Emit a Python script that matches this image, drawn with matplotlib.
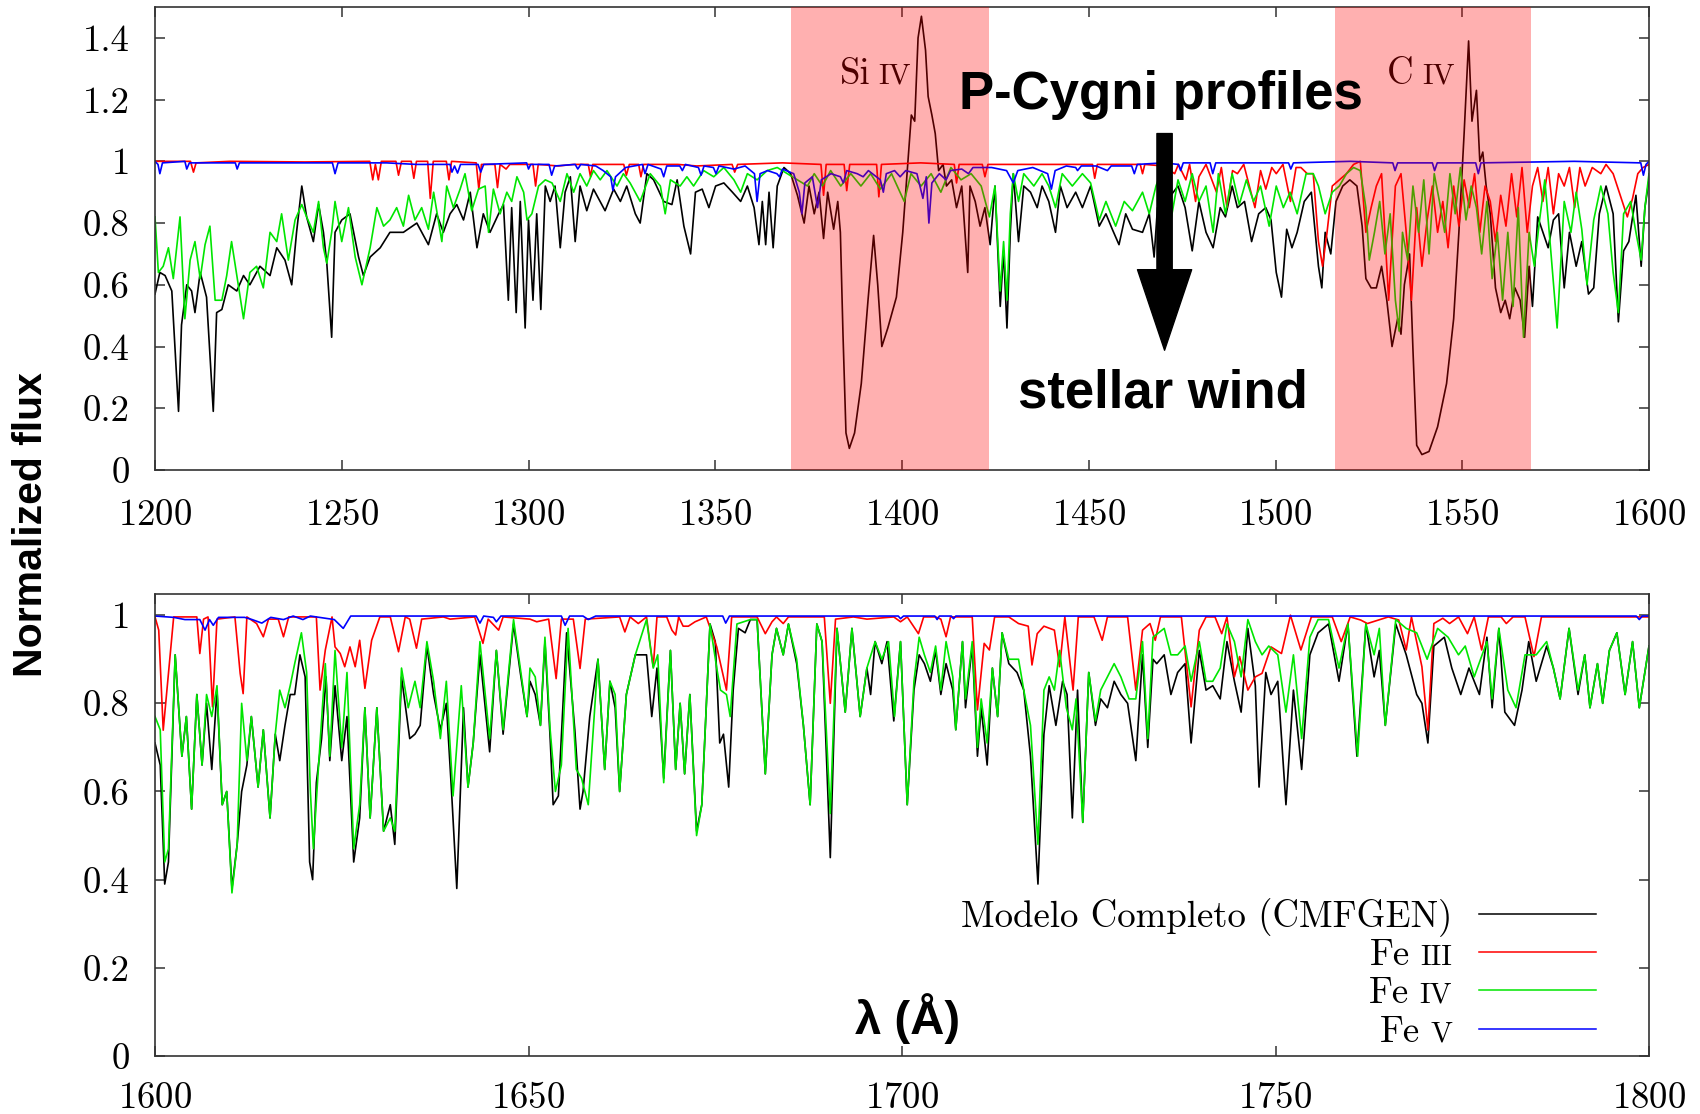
"""UV spectrum of the complete CMFGEN model compared with the Fe III, Fe IV and Fe V contributions."""

import numpy as np
import matplotlib

matplotlib.use("Agg")
import matplotlib.pyplot as plt
from matplotlib.lines import Line2D
from matplotlib.offsetbox import AnnotationBbox, DrawingArea, HPacker, TextArea
from matplotlib.ticker import FuncFormatter

plt.rcParams["font.family"] = "cmr10"
plt.rcParams["axes.formatter.use_mathtext"] = True

# (wavelength in Angstrom, normalized flux)
top_black = [
    (1200.0, .57), (1201.3, .64), (1202.7, .63), (1204.5, .58), (1206.3, .19), (1207.1, .47), (1208.5, .60),
    (1209.8, .58), (1210.7, .51), (1212.1, .64), (1213.8, .56), (1215.6, .19), (1216.5, .51), (1217.9, .52),
    (1219.6, .60), (1221.9, .58), (1223.7, .63), (1225.4, .60), (1228.1, .66), (1230.8, .63), (1232.6, .72),
    (1234.8, .68), (1236.6, .60), (1237.9, .77), (1239.3, .92), (1240.6, .82), (1242.4, .74), (1243.8, .86),
    (1245.1, .77), (1246.0, .67), (1247.3, .43), (1248.2, .77), (1250.0, .81), (1252.2, .83), (1254.5, .69),
    (1255.8, .63), (1257.6, .69), (1260.3, .72), (1262.9, .77), (1266.5, .77), (1270.1, .80), (1273.2, .73),
    (1275.4, .83), (1277.2, .77), (1279.0, .83), (1280.8, .86), (1282.6, .81), (1284.4, .90), (1286.2, .72),
    (1287.9, .83), (1289.7, .77), (1292.0, .83), (1293.3, .86), (1294.6, .55), (1295.5, .85), (1296.7, .51),
    (1297.8, .87), (1299.1, .46), (1300.0, .81), (1301.2, .55), (1302.2, .83), (1303.3, .52), (1304.5, .92),
    (1305.8, .87), (1307.1, .92), (1308.5, .72), (1309.8, .90), (1311.2, .95), (1312.5, .74), (1313.8, .92),
    (1315.6, .84), (1317.4, .91), (1320.5, .84), (1322.8, .91), (1324.6, .87), (1326.3, .92), (1328.6, .83),
    (1329.9, .80), (1331.7, .96), (1333.5, .94), (1336.2, .87), (1338.4, .86), (1339.8, .94), (1341.6, .79),
    (1343.4, .70), (1344.7, .90), (1346.5, .91), (1348.3, .85), (1350.1, .92), (1352.3, .93), (1354.6, .90),
    (1356.8, .87), (1358.6, .92), (1360.4, .85), (1361.7, .73), (1362.6, .87), (1363.5, .73), (1364.4, .90),
    (1365.5, .72), (1366.6, .92), (1368.4, .98), (1370.2, .96), (1372.0, .89), (1373.8, .80), (1375.1, .92),
    (1376.5, .83), (1377.8, .90), (1379.0, .75), (1380.1, .90), (1381.7, .78), (1382.8, .87), (1383.5, .77),
    (1384.2, .44), (1385.0, .12), (1385.9, .07), (1387.3, .12), (1389.1, .28), (1390.9, .55), (1392.4, .76),
    (1393.5, .60), (1394.6, .40), (1396.2, .46), (1398.5, .56), (1400.2, .77), (1401.6, 1.00), (1402.5, 1.15),
    (1403.4, 1.13), (1404.3, 1.40), (1405.2, 1.47), (1406.3, 1.36), (1407.0, 1.21), (1408.0, 1.15),
    (1408.9, 1.09), (1409.8, .97), (1411.0, .99), (1411.9, .92), (1413.3, .94), (1414.6, .85), (1416.0, .92),
    (1417.6, .64), (1418.2, .92), (1419.6, .87), (1420.9, .79), (1422.2, .85), (1423.6, .73), (1424.9, .92),
    (1426.3, .53), (1427.2, .71), (1428.1, .46), (1429.0, .77), (1429.8, .96), (1431.2, .74), (1432.6, .92),
    (1434.4, .90), (1436.2, .85), (1437.5, .92), (1439.3, .87), (1441.1, .77), (1442.4, .92), (1444.2, .85),
    (1446.5, .90), (1448.3, .85), (1450.5, .92), (1452.8, .79), (1454.6, .83), (1456.3, .78), (1458.1, .73),
    (1459.9, .83), (1461.7, .78), (1464.4, .77), (1466.2, .83), (1467.5, .69), (1468.4, .85), (1472.0, .89),
    (1473.9, .92), (1475.8, .85), (1477.7, .71), (1479.5, .87), (1481.4, .77), (1483.3, .72), (1485.2, .85),
    (1486.6, .82), (1488.4, .92), (1489.8, .85), (1491.7, .87), (1493.6, .74), (1495.5, .83), (1497.4, .85),
    (1498.8, .81), (1500.2, .64), (1501.6, .56), (1503.0, .78), (1504.4, .72), (1505.8, .77), (1507.7, .87),
    (1509.6, .90), (1511.5, .66), (1512.4, .59), (1513.3, .77), (1514.8, .70), (1516.2, .87), (1518.0, .92),
    (1519.9, .94), (1521.8, .92), (1523.2, .79), (1524.2, .62), (1525.6, .59), (1527.0, .59), (1528.4, .66),
    (1529.8, .55), (1531.2, .40), (1532.7, .49), (1533.6, .44), (1534.5, .60), (1535.9, .70), (1536.8, .39),
    (1537.8, .08), (1539.2, .05), (1541.1, .06), (1543.4, .14), (1545.8, .28), (1547.7, .49), (1549.1, .77),
    (1550.5, 1.09), (1551.7, 1.39), (1552.6, 1.13), (1553.8, 1.23), (1554.7, 1.00), (1555.5, 1.03),
    (1556.4, .92), (1557.5, .83), (1558.9, .59), (1560.3, .51), (1561.5, .55), (1562.7, .49), (1564.1, .59),
    (1565.5, .55), (1566.7, .43), (1567.9, .66), (1568.8, .53), (1570.2, .82), (1571.6, .77), (1573.0, .72),
    (1574.4, .81), (1575.8, .83), (1577.3, .59), (1578.7, .77), (1580.5, .66), (1582.0, .74), (1583.8, .57),
    (1585.2, .59), (1586.7, .83), (1588.5, .92), (1590.4, .83), (1591.8, .48), (1593.2, .71), (1594.6, .74),
    (1596.5, .89), (1597.9, .66), (1598.9, .85), (1600.0, .94),
]

top_fe3 = [
    (1200.0, 1.0), (1209.5, 1.0), (1210.3, .965), (1211.0, .995), (1220.0, 1.0), (1240.0, .998),
    (1257.5, 1.0), (1258.3, .94), (1259.0, .99), (1259.8, .94), (1260.6, 1.0), (1264.5, 1.0), (1265.2, .955),
    (1266.0, 1.0), (1268.6, 1.0), (1269.3, .945), (1270.0, 1.0), (1273.0, 1.0), (1273.7, .88), (1274.5, 1.0),
    (1278.0, 1.0), (1278.7, .94), (1279.4, 1.0), (1286.0, .995), (1286.7, .91), (1287.4, .99), (1291.0, .99),
    (1291.7, .915), (1292.4, .99), (1294.0, .975), (1295.0, .99), (1301.2, .99), (1301.9, .92), (1302.6, .99),
    (1308.0, .985), (1312.0, .99), (1316.0, .99), (1316.6, .95), (1317.2, .99), (1325.5, .99), (1326.2, .955),
    (1327.0, .99), (1329.5, .99), (1330.1, .95), (1330.8, .99), (1340.0, .99), (1345.0, .985), (1354.5, .99),
    (1355.2, .965), (1356.0, .99), (1368.0, .995), (1378.3, .99), (1379.0, .89), (1379.7, .99), (1384.5, .99),
    (1385.2, .905), (1386.0, .99), (1393.2, .99), (1393.8, .885), (1394.5, .99), (1405.0, .995),
    (1414.0, .99), (1414.6, .93), (1415.3, .99), (1421.5, .99), (1422.2, .95), (1423.0, .99), (1435.0, .99),
    (1451.0, .99), (1451.6, .945), (1452.3, .99), (1463.8, .99), (1464.4, .96), (1465.0, .99), (1470.0, .985),
    (1473.0, .96), (1474.0, .99), (1476.0, .94), (1477.0, .99), (1478.6, .87), (1479.5, .95), (1481.4, .99),
    (1484.2, .90), (1485.5, .98), (1487.0, .85), (1488.5, .97), (1489.8, .96), (1491.5, .99), (1494.5, .85),
    (1496.0, .97), (1497.4, .91), (1499.0, .98), (1500.2, .96), (1502.0, .99), (1504.0, .87), (1505.5, .98),
    (1506.8, .98), (1508.5, .96), (1510.1, .96), (1511.5, .74), (1512.6, .66), (1513.8, .77), (1515.2, .92),
    (1517.1, .94), (1519.0, .96), (1520.9, .99), (1522.7, 1.0), (1524.2, .77), (1525.6, .85), (1527.0, .92),
    (1528.4, .96), (1530.3, .55), (1531.2, .74), (1532.1, .92), (1533.6, .96), (1535.0, .77), (1536.4, .55),
    (1537.8, .85), (1539.2, .66), (1540.6, .81), (1542.0, .92), (1543.4, .77), (1544.8, .87), (1546.2, .72),
    (1547.7, .92), (1549.1, .79), (1550.5, .94), (1551.9, .85), (1553.3, .96), (1554.7, .77), (1556.1, .92),
    (1557.5, .87), (1558.9, .74), (1560.3, .89), (1561.7, .79), (1563.2, .96), (1564.6, .82), (1566.0, .98),
    (1567.4, .77), (1568.8, .92), (1570.2, .98), (1571.6, .87), (1573.0, .98), (1574.4, .83), (1575.8, .96),
    (1577.3, .92), (1578.7, .98), (1580.1, .85), (1581.5, .98), (1582.9, .92), (1584.8, .98), (1587.1, .96),
    (1588.5, .99), (1590.4, .96), (1592.3, .89), (1594.2, .82), (1595.6, .88), (1597.0, .96), (1598.4, .98),
    (1600.0, .99),
]

top_fe4 = [
    (1200.0, .82), (1200.9, .64), (1202.2, .66), (1203.6, .72), (1204.9, .62), (1206.7, .82), (1208.0, .49),
    (1209.4, .68), (1210.7, .74), (1212.1, .62), (1213.4, .73), (1214.7, .79), (1216.1, .55), (1217.9, .55),
    (1219.2, .63), (1220.5, .74), (1222.3, .60), (1223.7, .49), (1225.4, .64), (1227.2, .66), (1229.0, .59),
    (1230.8, .77), (1232.6, .74), (1233.9, .83), (1235.7, .68), (1237.5, .81), (1239.3, .86), (1240.6, .82),
    (1242.4, .77), (1243.8, .87), (1245.1, .72), (1246.0, .67), (1247.3, .77), (1248.2, .87), (1250.0, .74),
    (1251.8, .85), (1253.6, .69), (1255.4, .60), (1257.6, .72), (1259.4, .85), (1261.2, .79), (1262.9, .81),
    (1264.7, .85), (1266.5, .79), (1267.9, .89), (1269.6, .81), (1271.4, .85), (1273.2, .78), (1274.6, .90),
    (1276.8, .74), (1278.1, .92), (1279.9, .85), (1281.7, .91), (1283.0, .96), (1284.8, .84), (1286.6, .91),
    (1288.4, .92), (1289.3, .77), (1290.6, .91), (1292.4, .83), (1294.2, .90), (1295.5, .87), (1296.9, .95),
    (1298.7, .90), (1299.6, .81), (1300.9, .83), (1302.7, .92), (1304.5, .94), (1306.3, .93), (1308.5, .87),
    (1310.3, .96), (1312.1, .90), (1313.8, .96), (1315.6, .92), (1317.4, .97), (1319.2, .94), (1321.0, .97),
    (1323.7, .92), (1325.4, .96), (1327.2, .93), (1329.9, .87), (1332.6, .96), (1335.3, .92), (1336.6, .83),
    (1338.0, .94), (1340.6, .92), (1342.4, .95), (1344.2, .92), (1346.9, .97), (1349.6, .95), (1352.3, .98),
    (1355.0, .94), (1356.8, .90), (1358.6, .96), (1361.2, .94), (1363.9, .97), (1366.6, .98), (1369.3, .96),
    (1372.0, .94), (1374.7, .92), (1376.5, .96), (1378.7, .92), (1380.9, .97), (1383.6, .92), (1386.3, .96),
    (1389.0, .92), (1391.6, .96), (1394.2, .91), (1397.2, .96), (1400.6, .87), (1402.4, .96), (1405.1, .92),
    (1407.8, .96), (1410.4, .90), (1413.1, .98), (1415.8, .94), (1418.5, .96), (1421.2, .92), (1423.4, .82),
    (1424.9, .92), (1426.3, .58), (1427.2, .74), (1428.1, .55), (1429.0, .83), (1429.8, .96), (1431.2, .87),
    (1432.6, .96), (1435.3, .92), (1437.5, .96), (1439.3, .92), (1441.1, .85), (1442.9, .96), (1445.6, .92),
    (1448.3, .96), (1450.5, .93), (1452.8, .81), (1454.6, .87), (1457.2, .79), (1459.5, .87), (1461.7, .84),
    (1464.4, .90), (1466.2, .83), (1468.0, .92), (1469.2, .96), (1472.0, .81), (1473.9, .94), (1475.8, .87),
    (1477.7, .96), (1479.5, .87), (1481.4, .92), (1483.3, .77), (1484.7, .96), (1486.6, .83), (1488.4, .96),
    (1490.3, .86), (1492.2, .94), (1494.1, .87), (1496.0, .92), (1498.3, .79), (1500.2, .92), (1502.1, .85),
    (1503.9, .90), (1505.8, .83), (1508.2, .96), (1510.1, .96), (1511.5, .92), (1513.3, .83), (1515.2, .90),
    (1517.1, .92), (1519.0, .96), (1520.9, .98), (1522.7, .97), (1524.2, .85), (1525.1, .68), (1526.5, .77),
    (1527.9, .87), (1529.3, .70), (1530.7, .83), (1532.1, .55), (1533.1, .45), (1534.0, .77), (1535.4, .68),
    (1536.8, .92), (1538.3, .77), (1539.7, .94), (1541.1, .70), (1542.5, .96), (1543.9, .87), (1545.3, .77),
    (1546.7, .96), (1548.1, .83), (1549.5, .98), (1551.0, .81), (1552.4, .92), (1553.8, .85), (1555.2, .70),
    (1556.6, .87), (1558.0, .62), (1559.4, .77), (1560.8, .55), (1562.2, .77), (1563.6, .53), (1565.0, .85),
    (1566.4, .43), (1567.9, .77), (1569.3, .66), (1570.7, .81), (1572.1, .94), (1573.5, .74), (1575.4, .46),
    (1577.3, .87), (1579.1, .77), (1580.5, .90), (1582.0, .78), (1583.4, .60), (1585.2, .81), (1587.1, .92),
    (1589.0, .83), (1590.4, .64), (1591.8, .51), (1593.2, .83), (1595.1, .87), (1596.5, .77), (1597.9, .68),
    (1598.9, .85), (1600.0, .96),
]

top_fe5 = [
    (1200.0, 1.0), (1200.8, .99), (1201.3, .96), (1202.0, .995), (1208.0, 1.0), (1208.5, .975),
    (1209.2, .995), (1221.5, .995), (1222.0, .975), (1222.6, .995), (1247.5, .995), (1248.2, .96),
    (1249.0, .995), (1262.0, .995), (1270.0, .99), (1279.0, .99), (1279.5, .965), (1280.2, .985),
    (1281.0, .962), (1281.8, .99), (1286.5, .99), (1287.2, .965), (1288.0, .99), (1299.5, .995), (1300.0, .975),
    (1300.6, .99), (1305.5, .99), (1306.2, .955), (1307.0, .985), (1312.5, .99), (1313.2, .975), (1314.0, .99),
    (1318.0, .985), (1320.0, .97), (1322.0, .95), (1322.6, .906), (1323.3, .95), (1326.0, .98), (1330.5, .99),
    (1331.2, .96), (1332.0, .99), (1335.5, .975), (1336.2, .95), (1337.0, .985), (1340.5, .985), (1341.2, .97),
    (1342.0, .99), (1345.5, .98), (1346.2, .955), (1347.0, .985), (1349.5, .98), (1350.2, .96), (1351.0, .985),
    (1355.0, .975), (1358.0, .985), (1360.5, .96), (1361.2, .87), (1362.0, .96), (1364.0, .97), (1366.5, .96),
    (1367.2, .95), (1368.0, .975), (1371.0, .96), (1372.5, .90), (1373.2, .83), (1374.0, .93), (1376.0, .95),
    (1377.4, .85), (1378.4, .94), (1381.0, .96), (1383.5, .95), (1384.3, .93), (1385.2, .97), (1388.0, .96),
    (1389.6, .95), (1391.0, .97), (1394.2, .94), (1395.0, .90), (1395.8, .96), (1398.0, .97), (1399.5, .95),
    (1401.0, .97), (1404.0, .96), (1405.6, .88), (1406.5, .95), (1407.2, .80), (1408.0, .93), (1410.0, .96),
    (1411.8, .94), (1413.0, .97), (1416.0, .975), (1417.8, .96), (1419.0, .98), (1424.0, .98), (1428.0, .97),
    (1429.8, .93), (1431.0, .97), (1435.0, .98), (1439.0, .96), (1440.0, .91), (1441.0, .97), (1444.0, .985),
    (1446.5, .98), (1447.0, .97), (1448.0, .985), (1452.0, .985), (1455.0, .97), (1456.0, .985),
    (1461.5, .985), (1462.2, .96), (1463.0, .99), (1470.0, .995), (1474.0, .99), (1474.6, .97),
    (1475.3, .995), (1482.5, .995), (1483.2, .96), (1484.0, .995), (1503.5, .995), (1504.1, .975),
    (1504.8, .995), (1520.0, 1.0), (1531.4, .995), (1532.0, .97), (1532.7, .995), (1542.0, .995),
    (1542.6, .97), (1543.3, .995), (1553.6, .995), (1554.3, .96), (1555.0, .995), (1580.0, 1.0),
    (1597.8, .995), (1598.5, .955), (1599.2, .99), (1600.0, 1.0),
]

bottom_black = [
    (1600.0, .71), (1600.7, .66), (1601.3, .39), (1601.8, .44), (1602.7, .91), (1603.6, .68), (1604.2, .77),
    (1604.9, .56), (1605.6, .82), (1606.3, .66), (1606.9, .80), (1607.6, .65), (1608.3, .83), (1609.0, .57),
    (1609.6, .60), (1610.3, .38), (1611.0, .48), (1611.6, .60), (1612.3, .66), (1612.9, .77), (1613.8, .61),
    (1614.5, .74), (1615.4, .54), (1616.1, .73), (1616.7, .67), (1617.4, .75), (1618.1, .82), (1618.7, .82),
    (1619.4, .91), (1620.1, .86), (1620.7, .44), (1621.1, .40), (1621.6, .62), (1622.3, .72), (1622.9, .86),
    (1623.4, .67), (1624.1, .84), (1625.0, .67), (1625.7, .77), (1626.6, .44), (1627.4, .54), (1628.1, .79),
    (1628.8, .54), (1629.7, .79), (1630.6, .51), (1631.5, .57), (1632.1, .48), (1633.0, .86), (1634.1, .72),
    (1634.8, .73), (1635.5, .75), (1636.4, .93), (1637.3, .82), (1638.2, .74), (1639.0, .80), (1639.7, .60),
    (1640.4, .38), (1641.3, .79), (1641.9, .61), (1642.6, .71), (1643.5, .91), (1644.8, .69), (1645.7, .92),
    (1646.6, .73), (1648.0, .98), (1648.9, .87), (1649.8, .77), (1650.2, .85), (1650.9, .82), (1651.6, .75),
    (1652.2, .94), (1652.9, .72), (1653.3, .57), (1654.0, .59), (1655.1, .96), (1656.2, .74), (1656.9, .56),
    (1657.3, .60), (1658.2, .77), (1659.3, .90), (1660.2, .65), (1660.9, .85), (1661.6, .79), (1662.2, .60),
    (1663.1, .82), (1664.3, .91), (1665.8, .91), (1666.5, .77), (1667.2, .88), (1668.1, .63), (1669.0, .92),
    (1669.7, .65), (1670.3, .80), (1670.9, .64), (1671.6, .82), (1672.5, .51), (1673.2, .57), (1674.3, .98),
    (1675.0, .94), (1675.6, .71), (1676.1, .73), (1676.8, .61), (1677.4, .83), (1678.1, .97), (1679.0, .96),
    (1679.7, .99), (1680.6, .99), (1681.7, .64), (1682.6, .91), (1683.2, .97), (1684.1, .91), (1684.8, .98),
    (1685.9, .89), (1686.8, .75), (1687.7, .57), (1688.6, .98), (1689.3, .94), (1690.4, .45), (1691.3, .97),
    (1692.4, .78), (1693.3, .97), (1694.4, .77), (1695.3, .88), (1695.8, .82), (1696.4, .94), (1697.3, .89),
    (1698.0, .94), (1698.9, .76), (1699.8, .94), (1700.7, .57), (1701.6, .83), (1702.3, .91), (1703.0, .89),
    (1703.8, .85), (1704.5, .92), (1705.2, .82), (1705.9, .89), (1706.8, .83), (1707.2, .74), (1708.1, .94),
    (1708.5, .79), (1709.4, .93), (1710.1, .68), (1710.6, .79), (1711.4, .66), (1712.1, .88), (1712.8, .77),
    (1713.4, .96), (1714.3, .89), (1715.4, .87), (1716.3, .83), (1717.2, .68), (1718.2, .39), (1719.0, .73),
    (1719.7, .84), (1720.6, .75), (1721.5, .85), (1722.1, .82), (1722.8, .54), (1723.5, .83), (1724.2, .53),
    (1725.0, .87), (1725.9, .75), (1726.6, .81), (1727.5, .79), (1728.4, .85), (1729.3, .82), (1730.2, .80),
    (1731.3, .67), (1732.2, .91), (1732.9, .70), (1733.6, .90), (1734.1, .89), (1735.1, .91), (1736.0, .82),
    (1736.9, .87), (1737.9, .89), (1738.7, .71), (1739.8, .92), (1740.7, .83), (1741.6, .84), (1742.6, .81),
    (1743.5, .94), (1744.5, .85), (1745.4, .78), (1746.3, .97), (1747.3, .84), (1747.8, .61), (1748.7, .87),
    (1749.4, .82), (1750.3, .85), (1751.4, .57), (1752.4, .83), (1753.5, .65), (1754.6, .91), (1755.7, .96),
    (1757.1, .98), (1758.5, .85), (1759.7, .98), (1760.9, .68), (1762.1, .98), (1763.2, .86), (1763.9, .92),
    (1764.7, .75), (1766.1, .98), (1767.5, .91), (1768.9, .82), (1769.6, .80), (1770.4, .71), (1771.2, .93),
    (1772.6, .95), (1773.6, .88), (1774.8, .82), (1775.9, .88), (1777.3, .82), (1778.3, .95), (1779.0, .79),
    (1779.9, .97), (1780.7, .78), (1782.0, .75), (1783.0, .83), (1783.9, .94), (1784.9, .85), (1786.3, .93),
    (1787.2, .88), (1788.1, .81), (1789.3, .97), (1790.5, .82), (1791.4, .91), (1792.1, .79), (1793.1, .89),
    (1793.8, .80), (1794.7, .92), (1795.7, .96), (1796.8, .82), (1797.8, .94), (1798.7, .79), (1800.0, .93),
]

bottom_fe3 = [
    (1600.0, .996), (1600.5, .966), (1601.1, .739), (1601.6, .83), (1602.5, .996), (1605.6, .996),
    (1606.0, .913), (1606.5, .991), (1607.1, .996), (1607.7, .792), (1608.3, .991), (1610.7, .996),
    (1611.4, .868), (1611.8, .822), (1612.3, .996), (1613.6, .981), (1614.5, .951), (1615.2, .991),
    (1616.5, .991), (1617.2, .951), (1617.9, .996), (1621.6, .996), (1622.1, .83), (1622.8, .921),
    (1623.7, .996), (1624.1, .928), (1624.8, .913), (1625.4, .883), (1626.1, .928), (1626.8, .883),
    (1627.4, .943), (1628.1, .834), (1629.0, .943), (1630.1, .996), (1631.5, .996), (1632.6, .917),
    (1633.5, .996), (1634.1, .991), (1635.0, .925), (1635.7, .991), (1638.6, .996), (1639.5, .991),
    (1642.8, .996), (1643.9, .936), (1644.6, .991), (1646.0, .966), (1646.6, .996), (1650.2, .991),
    (1651.1, .985), (1652.7, .991), (1653.7, .856), (1654.4, .991), (1656.0, .991), (1656.9, .879),
    (1657.6, .991), (1662.2, .996), (1662.9, .962), (1663.6, .996), (1664.7, .981), (1665.8, .996),
    (1666.5, .906), (1666.7, .883), (1667.2, .996), (1668.5, .996), (1669.2, .966), (1669.7, .955),
    (1670.1, .996), (1670.7, .975), (1671.4, .975), (1672.3, .985), (1673.8, .996), (1675.2, .928),
    (1676.5, .83), (1677.2, .996), (1680.6, .996), (1681.7, .958), (1682.6, .985), (1683.2, .996),
    (1684.1, .981), (1684.8, .996), (1689.6, .996), (1690.4, .80), (1691.1, .991), (1693.5, .996),
    (1695.3, .991), (1698.9, .996), (1699.8, .985), (1700.7, .996), (1702.2, .958), (1702.9, .996),
    (1704.5, .996), (1705.2, .991), (1705.9, .951), (1706.5, .996), (1709.4, .996), (1710.1, .785),
    (1711.0, .936), (1711.7, .921), (1712.4, .996), (1714.3, .996), (1715.6, .981), (1716.9, .975),
    (1717.4, .887), (1718.1, .958), (1719.0, .975), (1720.4, .966), (1721.1, .883), (1721.8, .996),
    (1722.4, .906), (1722.9, .83), (1723.6, .996), (1725.7, .996), (1726.8, .943), (1727.5, .996),
    (1730.2, .996), (1731.3, .83), (1732.2, .966), (1733.2, .981), (1733.9, .943), (1734.6, .996),
    (1737.4, .996), (1738.7, .792), (1739.8, .966), (1740.7, .996), (1741.9, .996), (1742.8, .958),
    (1743.5, .996), (1744.5, .86), (1745.2, .906), (1746.3, .83), (1747.3, .86), (1748.2, .868),
    (1749.4, .928), (1750.8, .913), (1752.0, 1.0), (1753.4, .921), (1754.8, .996), (1757.6, .996),
    (1758.8, .94), (1760.0, .996), (1761.4, .989), (1762.3, .981), (1765.1, .996), (1766.5, .989),
    (1767.5, .921), (1768.2, .996), (1769.6, .883), (1770.4, .739), (1771.2, .981), (1772.4, .993),
    (1773.3, .981), (1774.5, .996), (1775.7, .958), (1776.6, .996), (1777.6, .921), (1778.5, .996),
    (1780.2, .996), (1780.9, .981), (1781.8, .996), (1783.4, .996), (1784.6, .906), (1785.6, .996),
    (1800.0, .996),
]

bottom_fe4 = [
    (1600.0, .77), (1600.7, .74), (1601.3, .44), (1601.8, .47), (1602.7, .91), (1603.6, .68), (1604.2, .77),
    (1604.9, .56), (1605.6, .82), (1606.3, .66), (1606.9, .82), (1607.6, .77), (1608.3, .84), (1609.0, .57),
    (1609.6, .60), (1610.3, .37), (1611.0, .48), (1611.6, .80), (1612.3, .67), (1612.9, .77), (1613.8, .61),
    (1614.5, .74), (1615.4, .54), (1616.1, .73), (1616.7, .83), (1617.4, .79), (1618.1, .84), (1618.7, .89),
    (1619.6, .96), (1620.3, .87), (1620.8, .60), (1621.2, .47), (1621.9, .66), (1622.8, .89), (1623.4, .68),
    (1624.1, .92), (1625.0, .70), (1625.7, .87), (1626.6, .47), (1627.4, .57), (1628.1, .79), (1628.8, .54),
    (1629.7, .79), (1630.6, .51), (1631.5, .54), (1632.1, .51), (1633.0, .88), (1633.9, .79), (1634.8, .85),
    (1635.5, .79), (1636.4, .94), (1637.3, .85), (1638.2, .72), (1639.0, .85), (1639.9, .59), (1641.0, .84),
    (1641.9, .61), (1642.6, .71), (1643.5, .94), (1644.8, .72), (1645.7, .92), (1646.6, .74), (1648.0, .99),
    (1648.9, .88), (1649.8, .77), (1650.2, .88), (1650.9, .86), (1651.6, .75), (1652.2, .95), (1652.9, .74),
    (1653.6, .60), (1654.4, .66), (1655.3, .97), (1656.4, .65), (1657.1, .63), (1658.0, .57), (1659.3, .90),
    (1660.2, .65), (1660.9, .85), (1661.6, .82), (1662.2, .60), (1663.1, .82), (1664.3, .91), (1665.8, .99),
    (1666.7, .88), (1667.3, .91), (1668.1, .62), (1669.0, .92), (1669.7, .65), (1670.3, .80), (1670.9, .64),
    (1671.6, .82), (1672.5, .50), (1673.2, .57), (1674.3, .98), (1675.2, .88), (1675.7, .83), (1676.5, .82),
    (1677.0, .77), (1677.9, .98), (1679.7, .99), (1680.6, .99), (1681.7, .64), (1682.6, .91), (1683.2, .97),
    (1684.1, .91), (1684.8, .98), (1685.9, .90), (1686.8, .75), (1687.7, .57), (1688.6, .98), (1689.3, .94),
    (1690.4, .55), (1691.3, .97), (1692.4, .78), (1693.3, .97), (1694.4, .77), (1695.3, .88), (1696.4, .94),
    (1697.3, .90), (1698.2, .94), (1699.0, .77), (1699.8, .94), (1700.7, .57), (1701.6, .85), (1702.3, .95),
    (1703.0, .91), (1703.8, .87), (1704.5, .93), (1705.2, .83), (1705.9, .94), (1706.8, .86), (1707.2, .74),
    (1708.1, .94), (1708.5, .81), (1709.4, .94), (1710.1, .70), (1710.6, .81), (1711.4, .71), (1712.1, .88),
    (1712.8, .77), (1713.4, .96), (1714.3, .90), (1715.6, .90), (1716.3, .83), (1717.2, .75), (1718.2, .48),
    (1719.0, .83), (1719.7, .86), (1720.4, .83), (1721.1, .92), (1722.0, .79), (1722.8, .74), (1723.3, .81),
    (1724.2, .53), (1725.0, .87), (1725.9, .76), (1726.6, .83), (1727.5, .86), (1728.4, .89), (1729.3, .86),
    (1730.4, .81), (1731.3, .81), (1732.2, .94), (1732.9, .72), (1733.6, .95), (1735.1, .97), (1736.0, .91),
    (1736.9, .91), (1737.9, .93), (1738.7, .85), (1739.8, .94), (1740.7, .85), (1741.6, .85), (1742.6, .88),
    (1743.5, .98), (1744.5, .94), (1745.4, .86), (1746.3, .99), (1747.3, .94), (1748.2, .91), (1749.1, .93),
    (1750.3, .91), (1751.4, .78), (1752.4, .91), (1753.5, .72), (1754.6, .95), (1755.7, .99), (1757.1, .99),
    (1758.5, .88), (1759.7, .98), (1761.0, .68), (1762.1, .98), (1763.2, .91), (1763.9, .97), (1764.7, .75),
    (1766.1, .99), (1767.5, .97), (1768.9, .96), (1770.3, .90), (1771.7, .97), (1773.1, .95), (1774.5, .91),
    (1775.4, .93), (1776.6, .86), (1778.3, .94), (1779.0, .81), (1779.9, .97), (1781.1, .83), (1782.2, .79),
    (1783.4, .91), (1784.9, .91), (1786.3, .94), (1787.2, .88), (1788.1, .81), (1789.3, .97), (1790.5, .83),
    (1791.4, .91), (1792.1, .79), (1793.1, .89), (1793.8, .80), (1794.7, .92), (1795.7, .96), (1796.8, .82),
    (1797.8, .94), (1798.7, .79), (1800.0, .93),
]

bottom_fe5 = [
    (1600.0, .998), (1602.5, .995), (1604.0, .99), (1606.0, .99), (1606.7, .966), (1607.3, .99),
    (1607.8, .977), (1608.5, .995), (1612.0, .995), (1613.0, .99), (1614.3, .982), (1615.5, .995),
    (1617.2, .99), (1618.5, .998), (1619.8, .99), (1620.8, .998), (1624.0, .99), (1625.2, .97),
    (1626.2, .998), (1643.0, .998), (1643.5, .982), (1644.0, .998), (1645.3, .995), (1645.7, .985),
    (1646.3, .998), (1654.4, .998), (1654.9, .977), (1655.5, .998), (1657.3, .998), (1658.0, .99),
    (1659.0, .998), (1676.0, .998), (1676.4, .982), (1676.9, .998), (1699.5, .998), (1699.8, .992),
    (1700.2, .998), (1704.4, .998), (1704.7, .99), (1705.0, .998), (1706.6, .998), (1706.9, .992),
    (1707.2, .998), (1798.3, .998), (1798.7, .99), (1799.1, .998), (1800.0, .998),
]

series_colors = ["black", "#ff0000", "#00e600", "#0000ff"]
legend_labels = [("Modelo Completo (CMFGEN)", ""), ("Fe", "III"), ("Fe", "IV"), ("Fe", "V")]
wind_regions = [(1370.2, 1423.2), (1515.9, 1568.4)]
wind_labels = [(1392.9, "Si", "IV"), (1539.0, "C", "IV")]

SERIF = 26.5


def ion_label(element, stage, size=SERIF, gap=7.5):
    main = TextArea(element, textprops=dict(fontsize=size, family="cmr10"))
    if not stage:
        return main
    small = TextArea(stage, textprops=dict(fontsize=size * 0.8, family="cmr10"))
    return HPacker(children=[main, small], pad=0, sep=gap, align="baseline")


def style_axis(ax, xticks, yticks, xpad):
    ax.set_xticks(xticks)
    ax.set_yticks(yticks)
    ax.yaxis.set_major_formatter(FuncFormatter(lambda v, _: f"{v:g}"))
    ax.tick_params(direction="in", length=7.5, width=1.1, top=True, right=True,
                   labelsize=SERIF, color="#333333")
    ax.tick_params(axis="x", pad=xpad)
    ax.tick_params(axis="y", pad=18)
    for spine in ax.spines.values():
        spine.set_linewidth(1.2)
        spine.set_color("#333333")


fig = plt.figure(figsize=(17, 11.14), dpi=100)
ax_top = fig.add_axes([155 / 1700, 1 - 470 / 1114, 1494 / 1700, 463 / 1114])
ax_bot = fig.add_axes([155 / 1700, 1 - 1056 / 1114, 1494 / 1700, 462 / 1114])

for ax, curves in ((ax_top, (top_black, top_fe3, top_fe4, top_fe5)),
                   (ax_bot, (bottom_black, bottom_fe3, bottom_fe4, bottom_fe5))):
    for i, (curve, color) in enumerate(zip(curves, series_colors)):
        wl, flux = np.array(curve).T
        ax.plot(wl, flux, color=color, lw=1.2, zorder=2 + 0.1 * i)

ax_top.set_xlim(1200, 1600)
ax_top.set_ylim(0, 1.5)
style_axis(ax_top, np.arange(1200, 1601, 50), np.round(np.arange(0, 1.41, 0.2), 1), 21)

ax_bot.set_xlim(1600, 1800)
ax_bot.set_ylim(0, 1.048)
style_axis(ax_bot, np.arange(1600, 1801, 50), np.round(np.arange(0, 1.01, 0.2), 1), 18.5)

# wind-line regions, drawn over the spectra so the lines show through tinted
for lo, hi in wind_regions:
    ax_top.axvspan(lo, hi, color="#ff0000", alpha=0.31, lw=0, zorder=5)

for x, element, stage in wind_labels:
    ab = AnnotationBbox(ion_label(element, stage, gap=6), (x, 1.229), xycoords="data",
                        box_alignment=(0.5, 0.0), frameon=False, pad=0)
    ab.set_zorder(3)
    ax_top.add_artist(ab)

bold = dict(family="Liberation Sans", weight="bold")
ax_top.text(1469.4, 1.171, "P-Cygni profiles", ha="center", va="baseline", fontsize=38, zorder=7, **bold)
ax_top.text(1469.8, 0.204, "stellar wind", ha="center", va="baseline", fontsize=38, zorder=7, **bold)
ax_top.annotate("", xy=(1470.3, 0.388), xytext=(1470.3, 1.09),
                arrowprops=dict(arrowstyle="simple,head_length=0.58,head_width=0.39,tail_width=0.11",
                                mutation_scale=100, color="black", shrinkA=0, shrinkB=0),
                zorder=7)

ax_bot.text(0.504, 0.082, "λ (Å)", transform=ax_bot.transAxes, ha="center", va="center",
            fontsize=34, **bold)
fig.text(31 / 1700, 1 - 525 / 1114, "Normalized flux", rotation=90, ha="center", va="center",
         fontsize=29.5, **bold)

# legend: right-aligned labels with small-cap ionisation stages, line sample on the right
row_bottoms = [0.257, 0.1818, 0.0996, 0.0152]
for (element, stage), color, yb in zip(legend_labels, series_colors, row_bottoms):
    sample = DrawingArea(84, 16, 0, 0)
    sample.add_artist(Line2D([0, 84], [9.5, 9.5], color=color, lw=1.1))
    row = HPacker(children=[ion_label(element, stage), sample], pad=0, sep=19.5, align="baseline")
    ax_bot.add_artist(AnnotationBbox(row, (0.9645, yb), xycoords="axes fraction",
                                     box_alignment=(1.0, 0.0), frameon=False, pad=0))

fig.savefig("out.png", dpi=100)
